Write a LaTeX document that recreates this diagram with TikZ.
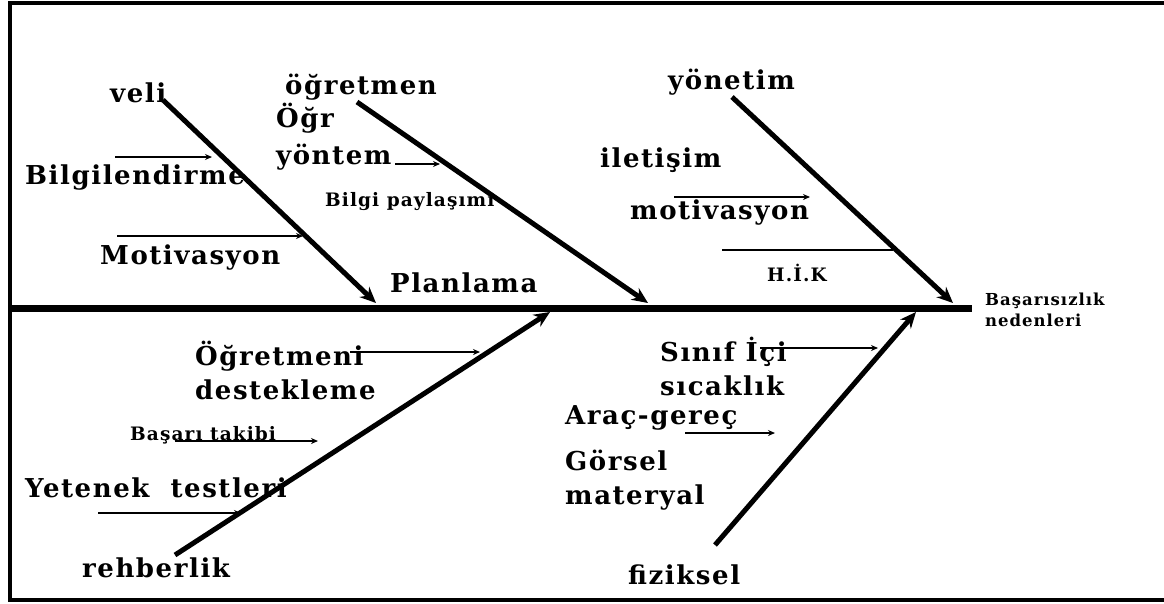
\documentclass[tikz,border=0pt]{standalone}
\usepackage{fontspec}
\setmainfont{DejaVu Serif}[LetterSpace=6]
\usetikzlibrary{arrows.meta}

\begin{document}
\begin{tikzpicture}[x=1pt, y=-1pt,
    every node/.style={anchor=west, inner sep=0pt, align=left},
    cat/.style={font=\bfseries\fontsize{26}{34}\selectfont},
    tiny/.style={font=\bfseries\fontsize{18.5}{20}\selectfont},
    bone/.style={draw, line width=5pt, -{Stealth[length=16pt,width=14pt]}},
    twig/.style={draw, line width=1.5pt, -{Stealth[length=7pt,width=6pt]}}
]
\useasboundingbox (0,0) rectangle (1164,603);
% frame and spine
\draw[line width=4pt] (1170,3) -- (10,3) -- (10,600) -- (1170,600);
\coordinate (tail) at (10,308);
\coordinate (head) at (972,308);
\draw[line width=7pt] (tail) -- (head);
\node[tiny, font=\bfseries\fontsize{16.5}{21}\selectfont] (effect) at (985,310) {Başarısızlık\\nedenleri};

% bones
\coordinate (veliS) at (163,100);      \coordinate (veliE) at (376,303);
\coordinate (ogrS) at (357,102);       \coordinate (ogrE) at (648,303);
\coordinate (yonS) at (732,97);        \coordinate (yonE) at (953,303);
\coordinate (rehS) at (175,555);       \coordinate (rehE) at (550,312);
\coordinate (fizS) at (715,545);       \coordinate (fizE) at (916,312);
\foreach \b in {veli,ogr,yon,reh,fiz}
    \draw[bone] (\b S) -- (\b E);

% upper left
\node[cat] (veli) at (110,93) {veli};
\node[cat] (bilg) at (25,178) {Bilgilendirme};
\node[cat] (moti) at (100,258) {Motivasyon};
\coordinate (bilgA) at (115,157);  \coordinate (bilgB) at (212,157);
\coordinate (motiA) at (117,236);  \coordinate (motiB) at (303,236);
\draw[twig] (bilgA) -- (bilgB);
\draw[twig] (motiA) -- (motiB);

% upper middle
\node[cat] (ogr) at (285,87) {öğretmen};
\node[cat, font=\bfseries\fontsize{26}{37}\selectfont] (yont) at (276,137) {Öğr\\yöntem};
\node[tiny] (payl) at (325,202) {Bilgi paylaşımı};
\node[cat] (plan) at (390,283) {Planlama};
\coordinate (yontA) at (395,164);  \coordinate (yontB) at (440,164);
\draw[twig] (yontA) -- (yontB);

% upper right
\node[cat] (yon) at (668,82) {yönetim};
\node[cat] (ilet) at (600,160) {iletişim};
\node[cat] (moti2) at (630,213) {motivasyon};
\node[tiny] (hik) at (767,273) {H.İ.K};
\coordinate (motA) at (674,197);   \coordinate (motB) at (810,197);
\coordinate (hikA) at (722,250);   \coordinate (hikB) at (893,250);
\draw[twig] (motA) -- (motB);
\draw[line width=1.5pt] (hikA) -- (hikB);

% lower left
\node[cat] (dest) at (195,370) {Öğretmeni\\destekleme};
\node[tiny] (takip) at (130,435) {Başarı takibi};
\node[cat] (yete) at (25,488) {Yetenek\ \ testleri};
\node[cat] (reh) at (82,568) {rehberlik};
\coordinate (destA) at (350,352);  \coordinate (destB) at (480,352);
\coordinate (takA) at (175,441);   \coordinate (takB) at (318,441);
\coordinate (yetA) at (98,513);    \coordinate (yetB) at (241,513);
\draw[twig] (destA) -- (destB);
\draw[twig] (takA) -- (takB);
\draw[twig] (yetA) -- (yetB);

% lower right
\node[cat] (sinif) at (660,366) {Sınıf İçi\\sıcaklık};
\node[cat] (arac) at (565,418) {Araç-gereç};
\node[cat] (gors) at (565,480) {Görsel\\materyal};
\node[cat] (fiz) at (628,575) {fiziksel};
\coordinate (sinA) at (760,348);   \coordinate (sinB) at (878,348);
\coordinate (araA) at (685,433);   \coordinate (araB) at (775,433);
\draw[twig] (sinA) -- (sinB);
\draw[twig] (araA) -- (araB);
\end{tikzpicture}
\end{document}
